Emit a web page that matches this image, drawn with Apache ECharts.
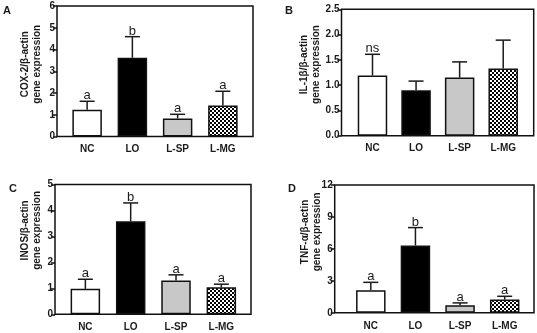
<!DOCTYPE html>
<html>
<head>
<meta charset="utf-8">
<script src="https://cdn.jsdelivr.net/npm/echarts@6/dist/echarts.min.js"></script>
<style>
  html, body { margin: 0; padding: 0; background: #fff; }
  #chart { width: 537px; height: 333px; }
</style>
</head>
<body>
<div id="chart"></div>
<script>
const categories = ['NC', 'LO', 'L-SP', 'L-MG'];

const coxMean = [1.23, 3.62, 0.83, 1.42];
const coxSd = [0.39, 0.97, 0.19, 0.66];
const coxLetters = ['a', 'b', 'a', 'a'];

const il1Mean = [1.19, 0.90, 1.15, 1.33];
const il1Sd = [0.42, 0.18, 0.31, 0.56];
const il1Letters = ['ns', '', '', ''];

const inosMean = [0.98, 3.58, 1.30, 1.04];
const inosSd = [0.37, 0.71, 0.22, 0.12];
const inosLetters = ['a', 'b', 'a', 'a'];

const tnfMean = [2.11, 6.32, 0.71, 1.24];
const tnfSd = [0.75, 1.68, 0.22, 0.31];
const tnfLetters = ['a', 'b', 'a', 'a'];

const FONT = 'Liberation Sans';
const INK = '#1a1a1a';

// checkerboard fill for L-MG
const checker = document.createElement('canvas');
checker.width = 4;
checker.height = 4;
const cctx = checker.getContext('2d');
cctx.fillStyle = '#fff';
cctx.fillRect(0, 0, 4, 4);
cctx.fillStyle = '#000';
cctx.fillRect(0, 0, 2, 2);
cctx.fillRect(2, 2, 2, 2);

const barFills = ['#ffffff', '#000000', '#c8c8c8', { image: checker, repeat: 'repeat' }];

// frame rect + band range of bars for each panel
const panels = [
  { letter: 'A', name: 'COX-2/β-actin\ngene expression', mean: coxMean, sd: coxSd, letters: coxLetters,
    max: 6, interval: 1, decimals: 0, nameGap: 13.5,
    frame: [57, 6, 253, 136.5], band: [64.5, 245.5], namePad: 14, lx: 3, ly: 5 },
  { letter: 'B', name: 'IL-1β/β-actin\ngene expression', mean: il1Mean, sd: il1Sd, letters: il1Letters,
    max: 2.5, interval: 0.5, decimals: 1, nameGap: 19,
    frame: [341.5, 9.3, 533.7, 135.7], band: [350.7, 525], namePad: 16, lx: 285, ly: 5 },
  { letter: 'C', name: 'INOS/β-actin\ngene expression', mean: inosMean, sd: inosSd, letters: inosLetters,
    max: 5, interval: 1, decimals: 0, nameGap: 12,
    frame: [55, 184.5, 251, 314.3], band: [62.7, 244], namePad: 38, lx: 9, ly: 183 },
  { letter: 'D', name: 'TNF-α/β-actin\ngene expression', mean: tnfMean, sd: tnfSd, letters: tnfLetters,
    max: 12, interval: 3, decimals: 0, nameGap: 11,
    frame: [334.7, 185, 534, 312.8], band: [348.5, 527], namePad: 34, lx: 288, ly: 183 }
];

const grid = [];
const xAxis = [];
const yAxis = [];
const series = [];
const title = [];

panels.forEach((p, i) => {
  const [l, t, r, b] = p.frame;
  const frameIdx = 2 * i;
  const barIdx = 2 * i + 1;

  grid.push({
    left: l, top: t, width: r - l, height: b - t,
    show: true, borderColor: '#111', borderWidth: 1.5, backgroundColor: 'transparent'
  });
  grid.push({
    left: p.band[0], top: t, width: p.band[1] - p.band[0], height: b - t
  });

  xAxis.push({ gridIndex: frameIdx, type: 'value', show: false });
  xAxis.push({
    gridIndex: barIdx,
    type: 'category',
    data: categories,
    axisLine: { show: false },
    axisTick: { show: false },
    axisLabel: { color: INK, fontFamily: FONT, fontWeight: 'bold', fontSize: 10, margin: 8 }
  });

  yAxis.push({
    gridIndex: frameIdx,
    type: 'value',
    min: 0,
    max: p.max,
    interval: p.interval,
    name: p.name,
    nameLocation: 'middle',
    nameRotate: 90,
    nameGap: p.nameGap,
    nameMoveOverlap: false,
    nameTextStyle: {
      color: INK, fontFamily: FONT, fontWeight: 'bold', fontSize: 10, lineHeight: 12,
      padding: [0, 0, 0, p.namePad]
    },
    axisLine: { show: false },
    axisTick: { show: true, length: 4, lineStyle: { color: '#111', width: 1.5 } },
    axisLabel: {
      color: INK, fontFamily: FONT, fontWeight: 'bold', fontSize: 10, margin: 2,
      formatter: v => v.toFixed(p.decimals)
    },
    splitLine: { show: false }
  });
  yAxis.push({ gridIndex: barIdx, type: 'value', min: 0, max: p.max, show: false });

  series.push({
    type: 'bar',
    xAxisIndex: barIdx,
    yAxisIndex: barIdx,
    barWidth: 29.5,
    data: p.mean.map((v, k) => ({
      value: v,
      itemStyle: { color: barFills[k], borderColor: '#111', borderWidth: 1.5 }
    })),
    z: 3
  });

  series.push({
    type: 'custom',
    xAxisIndex: barIdx,
    yAxisIndex: barIdx,
    z: 4,
    data: p.mean.map((v, k) => [k, v, v + p.sd[k]]),
    renderItem: (params, api) => {
      const k = api.value(0);
      const base = api.coord([k, api.value(1)]);
      const top = api.coord([k, api.value(2)]);
      const style = { stroke: INK, lineWidth: 1.5 };
      const children = [
        { type: 'line', shape: { x1: base[0], y1: base[1], x2: top[0], y2: top[1] }, style },
        { type: 'line', shape: { x1: top[0] - 7.5, y1: top[1], x2: top[0] + 7.5, y2: top[1] }, style }
      ];
      const txt = p.letters[params.dataIndex];
      if (txt) {
        children.push({
          type: 'text',
          x: top[0],
          y: top[1] + 1,
          style: {
            text: txt, fill: INK, fontFamily: FONT, fontSize: 13,
            align: 'center', verticalAlign: 'bottom'
          }
        });
      }
      return { type: 'group', children };
    }
  });

  title.push({
    text: p.letter,
    left: p.lx,
    top: p.ly,
    padding: 0,
    textStyle: { color: INK, fontFamily: FONT, fontWeight: 'bold', fontSize: 11 }
  });
});

const chart = echarts.init(document.getElementById('chart'), null, { renderer: 'canvas' });
chart.setOption({
  animation: false,
  backgroundColor: '#fff',
  title,
  grid,
  xAxis,
  yAxis,
  series
});
</script>
</body>
</html>
